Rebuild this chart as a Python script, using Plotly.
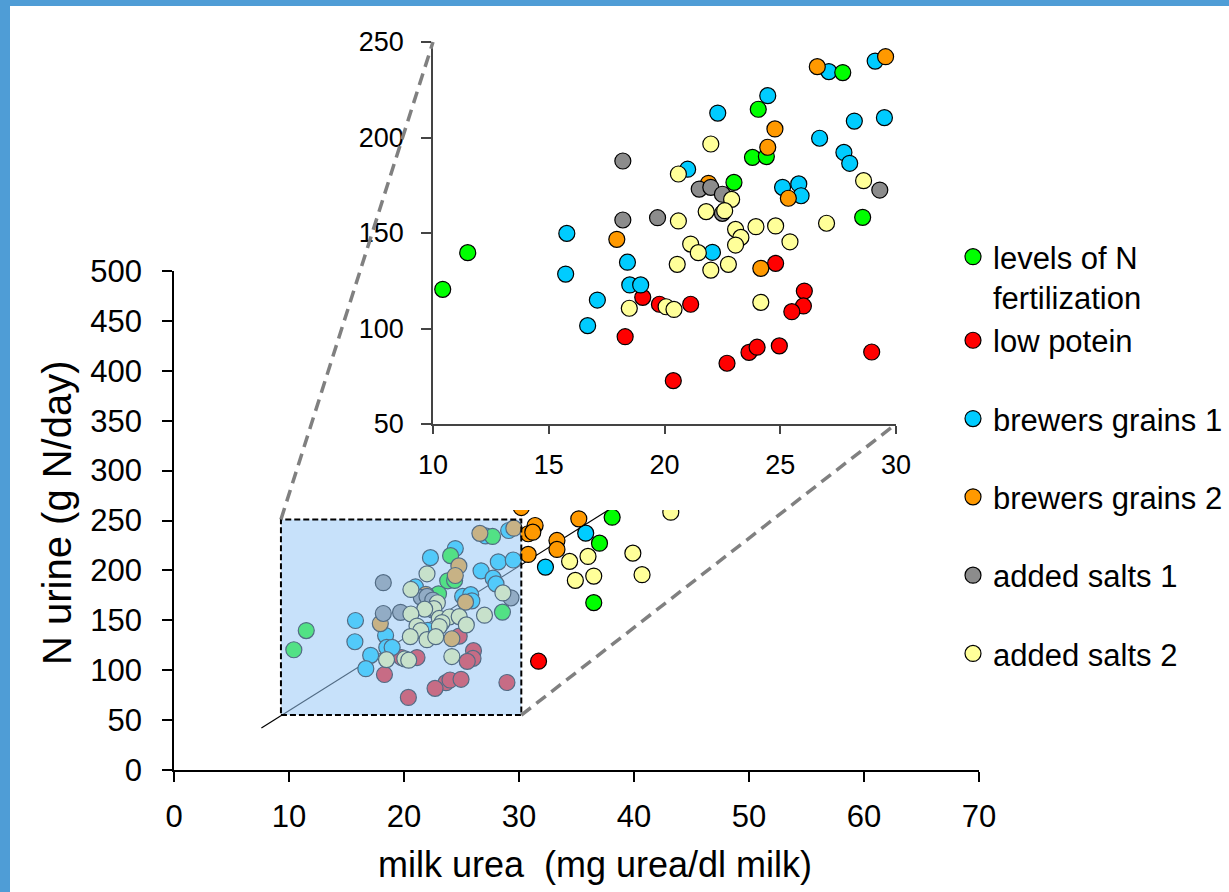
import plotly.graph_objects as go

W, H = 1229, 892
FONT = "Liberation Sans, Arial, sans-serif"

# ---- data: milk urea (mg/dl) vs urinary N (g N/day), per feeding experiment ----
# points inside the zoomed window (plotted in both panels)
green_x = [27.7, 24.05, 23.8, 24.4, 23.0, 28.56, 11.5, 10.42, 31.8]
green_y = [234, 214.8, 189.6, 190, 176.5, 158.2, 139.7, 120.5, 87.3]
red_x = [24.8, 19.06, 19.78, 21.13, 26.04, 26.0, 25.5, 18.3, 23.65, 24.0, 24.96, 22.7, 20.38, 28.95]
red_y = [134.1, 116.3, 112.7, 112.7, 119.6, 111.8, 108.8, 95.7, 87.5, 90.2, 90.9, 81.8, 72.7, 87.7]
blue_x = [27.1, 29.1, 24.46, 22.3, 28.2, 29.5, 26.7, 27.75, 28.0, 21.0, 25.1, 25.8, 25.9,
          15.78, 22.07, 18.4, 15.73, 18.5, 18.97, 17.1, 16.68]
blue_y = [234.5, 240, 221.9, 212.8, 208.6, 210.4, 199.6, 192.2, 186.5, 183.4, 173.9, 175.7, 169.5,
          149.8, 139.9, 134.7, 128.5, 122.8, 122.8, 114.9, 101.5]
orange_x = [26.6, 29.55, 24.77, 24.46, 21.9, 25.35, 17.94, 24.16]
orange_y = [237.1, 242.3, 204.5, 194.9, 176, 168.2, 146.7, 131.5]
gray_x = [18.2, 21.5, 22.0, 22.5, 22.5, 29.3, 18.2, 19.7]
gray_y = [187.7, 173, 173.9, 170.3, 160.3, 172.5, 156.8, 158]
yellow_x = [22.0, 20.6, 22.9, 22.6, 21.8, 28.6, 20.6, 23.07, 23.95, 24.8, 27.0, 23.3, 23.07, 21.13,
            21.46, 25.42, 20.55, 22.0, 22.76, 20.07, 20.41, 18.48, 24.16]
yellow_y = [196.6, 180.9, 167.6, 161.7, 161.2, 177.4, 156.3, 151.9, 153.3, 153.7, 155.1, 147.7, 143.7, 144.2,
            139.7, 145.4, 133.6, 130.6, 133.6, 111.4, 110, 110.6, 113.7]

# further points, beyond the zoomed window (full-range panel only)
green_extra_x = [38.1, 37.0, 36.5]
green_extra_y = [253.3, 227.3, 167.7]
red_extra_x = [31.7]
red_extra_y = [109]
blue_extra_x = [35.8, 32.3]
blue_extra_y = [237.3, 203.3]
orange_extra_x = [30.2, 30.8, 31.4, 31.2, 30.8, 33.3, 33.3, 35.2]
orange_extra_y = [263, 236.7, 245, 238.3, 216, 230, 221, 251.7]
gray_extra_x = []
gray_extra_y = []
yellow_extra_x = [34.4, 36.0, 34.9, 36.5, 39.9, 40.7, 43.2]
yellow_extra_y = [209, 214, 190, 194.3, 217.3, 195.7, 258.3]

# trend line y = INTERCEPT + SLOPE * x
SLOPE, INTERCEPT = 7.24, -13.0
TREND_X = [7.6, 45.0]

# zoomed window, in full-panel data units
WIN_X0, WIN_X1, WIN_Y0, WIN_Y1 = 9.3, 30.2, 55.0, 251.0

series = [
    # name, colour, window x/y, extra x/y, legend rank
    ("low potein", "#ff0000", red_x, red_y, red_extra_x, red_extra_y, 2),
    ("brewers grains 1", "#00ccff", blue_x, blue_y, blue_extra_x, blue_extra_y, 3),
    ("levels of N<br>fertilization", "#00ff00", green_x, green_y, green_extra_x, green_extra_y, 1),
    ("brewers grains 2", "#ff9900", orange_x, orange_y, orange_extra_x, orange_extra_y, 4),
    ("added salts 1", "#8c8c8c", gray_x, gray_y, gray_extra_x, gray_extra_y, 5),
    ("added salts 2", "#ffff99", yellow_x, yellow_y, yellow_extra_x, yellow_extra_y, 6),
]
legend_groups = {1: "g1", 2: "g1", 3: "g2", 4: "g3", 5: "g4", 6: "g5"}

# ---- panel geometry (pixels) ----
MAIN_PX = (174, 979)      # x=0 .. x=70
MAIN_PY = (770, 271)      # y=0 .. y=500
INSET_PX = (433, 896)     # x=10 .. x=30
INSET_PY = (424, 42)      # y=50 .. y=250
COVER_PX = (190, 965)
COVER_PY = (510, 8)

MAIN_XR, MAIN_YR = (0, 70), (0, 500)
INSET_XR, INSET_YR = (10, 30), (50, 250)


def xdom(p):
    return [p[0] / W, p[1] / W]


def ydom(p):
    return [1 - p[0] / H, 1 - p[1] / H]


def to_paper(x, y, px, py, xr, yr):
    fx = (x - xr[0]) / (xr[1] - xr[0])
    fy = (y - yr[0]) / (yr[1] - yr[0])
    X = px[0] + fx * (px[1] - px[0])
    Y = py[0] + fy * (py[1] - py[0])
    return X / W, 1 - Y / H


fig = go.Figure()

# trend line in the full panel
fig.add_trace(go.Scatter(
    x=TREND_X, y=[INTERCEPT + SLOPE * v for v in TREND_X],
    mode="lines", line=dict(color="black", width=1.2),
    showlegend=False, hoverinfo="skip", xaxis="x", yaxis="y"))

marker_line = dict(color="black", width=1.2)
MSIZE = 16

# full panel
for name, col, xs, ys, ex, ey, rank in series:
    mx = [a for a in xs if a <= WIN_X1] + ex
    my = [b for a, b in zip(xs, ys) if a <= WIN_X1] + ey
    fig.add_trace(go.Scatter(
        x=mx, y=my, mode="markers", name=name,
        marker=dict(size=MSIZE, color=col, line=marker_line),
        showlegend=False, xaxis="x", yaxis="y"))

# blank panel behind the zoomed chart
fig.add_trace(go.Scatter(x=[], y=[], mode="markers", showlegend=False,
                         hoverinfo="skip", xaxis="x2", yaxis="y2"))

# zoomed panel (also carries the legend)
for name, col, xs, ys, ex, ey, rank in series:
    fig.add_trace(go.Scatter(
        x=xs, y=ys, mode="markers", name=name,
        marker=dict(size=MSIZE, color=col, line=marker_line),
        legendgroup=legend_groups[rank], legendrank=rank,
        cliponaxis=False, xaxis="x3", yaxis="y3"))

axis_common = dict(showgrid=False, zeroline=False, showline=True, ticks="outside")

fig.update_layout(
    width=W, height=H,
    margin=dict(l=0, r=0, t=0, b=0, autoexpand=False),
    paper_bgcolor="white", plot_bgcolor="white",
    font=dict(family=FONT, color="black"),
    xaxis=dict(domain=xdom(MAIN_PX), range=list(MAIN_XR), anchor="y",
               tickvals=list(range(0, 71, 10)), linecolor="black", linewidth=1.5,
               tickcolor="black", tickwidth=1.5, ticklen=10,
               tickfont=dict(size=31), ticklabelstandoff=8, **axis_common),
    yaxis=dict(domain=ydom(MAIN_PY), range=list(MAIN_YR), anchor="x",
               tickvals=list(range(0, 501, 50)), linecolor="black", linewidth=1.5,
               tickcolor="black", tickwidth=1.5, ticklen=10,
               tickfont=dict(size=31), ticklabelstandoff=14, **axis_common),
    xaxis2=dict(domain=xdom(COVER_PX), range=[0, 1], anchor="y2", visible=False, fixedrange=True),
    yaxis2=dict(domain=ydom(COVER_PY), range=[0, 1], anchor="x2", visible=False, fixedrange=True),
    xaxis3=dict(domain=xdom(INSET_PX), range=list(INSET_XR), anchor="y3",
                tickvals=[10, 15, 20, 25, 30], linecolor="#444444", linewidth=1.5,
                tickcolor="#444444", tickwidth=1.5, ticklen=8,
                tickfont=dict(size=27), ticklabelstandoff=8, **axis_common),
    yaxis3=dict(domain=ydom(INSET_PY), range=list(INSET_YR), anchor="x3",
                tickvals=[50, 100, 150, 200, 250], linecolor="#444444", linewidth=1.5,
                tickcolor="#444444", tickwidth=1.5, ticklen=10,
                tickfont=dict(size=27), ticklabelstandoff=12, **axis_common),
    legend=dict(x=953 / W, y=1 - 230 / H, xanchor="left", yanchor="top",
                font=dict(size=31, family=FONT), valign="top",
                tracegroupgap=35, itemsizing="trace", traceorder="grouped",
                bgcolor="rgba(0,0,0,0)", borderwidth=0),
    showlegend=True,
)

# axis titles
fig.add_annotation(text="milk urea  (mg urea/dl milk)", xref="paper", yref="paper",
                   x=595 / W, y=1 - 864 / H, showarrow=False,
                   font=dict(size=36, family=FONT), xanchor="center", yanchor="middle")
fig.add_annotation(text="N urine (g N/day)", xref="paper", yref="paper",
                   x=57 / W, y=1 - 513 / H, showarrow=False, textangle=-90,
                   font=dict(size=40, family=FONT), xanchor="center", yanchor="middle")

# shaded zoom window
fig.add_shape(type="rect", xref="x", yref="y",
              x0=WIN_X0, x1=WIN_X1, y0=WIN_Y0, y1=WIN_Y1,
              fillcolor="rgba(151,199,245,0.54)",
              line=dict(color="black", width=2, dash="6px,3px"), layer="above")

# connectors from the window to the zoomed panel
p0 = to_paper(WIN_X0, WIN_Y1, MAIN_PX, MAIN_PY, MAIN_XR, MAIN_YR)
p1 = to_paper(INSET_XR[0], INSET_YR[1], INSET_PX, INSET_PY, INSET_XR, INSET_YR)
q0 = to_paper(WIN_X1, WIN_Y0, MAIN_PX, MAIN_PY, MAIN_XR, MAIN_YR)
q1 = to_paper(INSET_XR[1], INSET_YR[0], INSET_PX, INSET_PY, INSET_XR, INSET_YR)
for a, b in ((p0, p1), (q0, q1)):
    fig.add_shape(type="line", xref="paper", yref="paper",
                  x0=a[0], y0=a[1], x1=b[0], y1=b[1],
                  line=dict(color="#808080", width=3.5, dash="12px,7px"), layer="above")

# blue frame strips along the left and top edges
FRAME = "#4f9dd6"
fig.add_shape(type="rect", xref="paper", yref="paper", x0=0, x1=10 / W, y0=0, y1=1,
              fillcolor=FRAME, line=dict(width=0), layer="below")
fig.add_shape(type="rect", xref="paper", yref="paper", x0=0, x1=1, y0=1 - 6 / H, y1=1,
              fillcolor=FRAME, line=dict(width=0), layer="below")

fig.write_html("out.html")
